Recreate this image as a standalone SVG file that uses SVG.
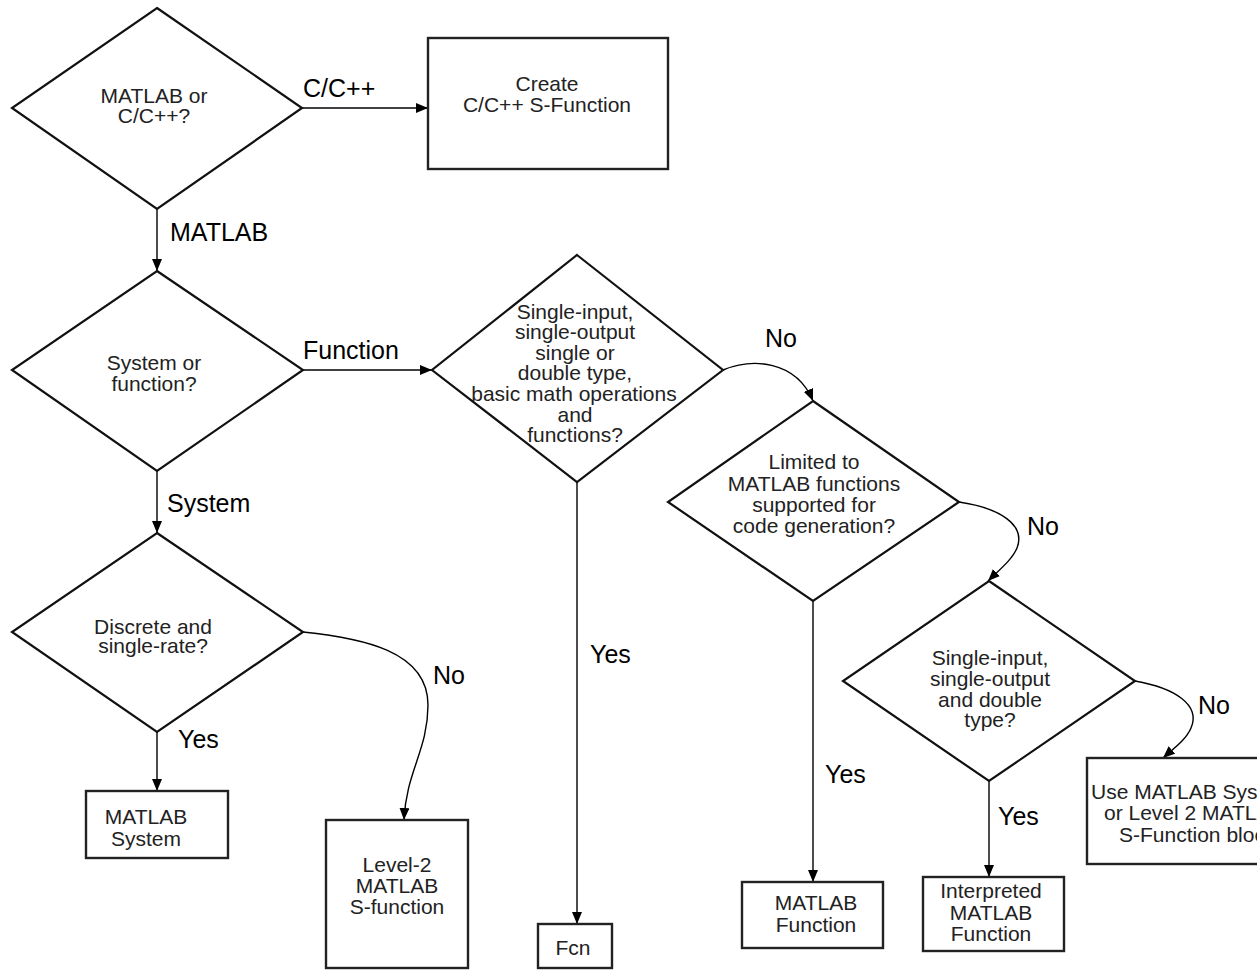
<svg xmlns="http://www.w3.org/2000/svg" width="1257" height="971" viewBox="0 0 1257 971">
<style>
.dia{fill:#fff;stroke:#111;stroke-width:2.2;stroke-linejoin:miter}
.box{fill:#fff;stroke:#222;stroke-width:2.4}
.t{font-family:"Liberation Sans",Arial,sans-serif;font-size:21px;fill:#222;text-anchor:middle}
.ts{font-family:"Liberation Sans",Arial,sans-serif;font-size:21px;fill:#222}
.lbl{font-family:"Liberation Sans",Arial,sans-serif;font-size:25px;fill:#000}
.c{fill:none;stroke:#000;stroke-width:1.4;marker-end:url(#ah)}
</style>
<defs>
<marker id="ah" markerUnits="userSpaceOnUse" markerWidth="12" markerHeight="10" refX="12" refY="5" orient="auto">
<path d="M0,0 L12,5 L0,10 z" fill="#000"/>
</marker>
</defs>
<rect width="1257" height="971" fill="#fff"/>
<g id="connectors">
<path class="c" d="M302,108 L428,108"/>
<path class="c" d="M157,209 L157,271"/>
<path class="c" d="M303,370 L432,370"/>
<path class="c" d="M157,471 L157,533"/>
<path class="c" d="M157,732 L157,791"/>
<path class="c" d="M303,632 C360,638 428,650 428,705 C428,750 406,772 404,820"/>
<path class="c" d="M577,482 L577,924"/>
<path class="c" d="M723,370 C752,358 796,360 813,401"/>
<path class="c" d="M813,601 L813,882"/>
<path class="c" d="M959,502 C1000,508 1026,525 1017,548 C1012,560 999,570 988,581"/>
<path class="c" d="M989,781 L989,877"/>
<path class="c" d="M1135,681 C1175,688 1201,705 1191,728 C1186,740 1173,749 1163,758"/>
<text class="lbl" x="303" y="97">C/C++</text>
<text class="lbl" x="170" y="241">MATLAB</text>
<text class="lbl" x="303" y="359">Function</text>
<text class="lbl" x="167" y="512">System</text>
<text class="lbl" x="178" y="748">Yes</text>
<text class="lbl" x="433" y="684">No</text>
<text class="lbl" x="590" y="663">Yes</text>
<text class="lbl" x="765" y="347">No</text>
<text class="lbl" x="825" y="783">Yes</text>
<text class="lbl" x="1027" y="535">No</text>
<text class="lbl" x="998" y="825">Yes</text>
<text class="lbl" x="1198" y="714">No</text>
</g>
<g id="d-lang">
<polygon class="dia" points="157,8 302,108 157,209 12,108"/>
<text class="t" x="154" y="103">MATLAB or</text>
<text class="t" x="154" y="123">C/C++?</text>
</g>
<g id="b-create">
<rect class="box" x="428" y="38" width="240" height="131"/>
<text class="t" x="547" y="91">Create</text>
<text class="t" x="547" y="112">C/C++ S-Function</text>
</g>
<g id="d-sysfun">
<polygon class="dia" points="157,271 303,370 157,471 12,370"/>
<text class="t" x="154" y="370">System or</text>
<text class="t" x="154" y="391">function?</text>
</g>
<g id="d-discrete">
<polygon class="dia" points="157,533 303,632 157,732 12,632"/>
<text class="t" x="153" y="634">Discrete and</text>
<text class="t" x="153" y="653">single-rate?</text>
</g>
<g id="b-matlabsystem">
<rect class="box" x="86" y="791" width="142" height="67"/>
<text class="t" x="146" y="824">MATLAB</text>
<text class="t" x="146" y="846">System</text>
</g>
<g id="b-level2">
<rect class="box" x="326" y="820" width="142" height="148"/>
<text class="t" x="397" y="872">Level-2</text>
<text class="t" x="397" y="893">MATLAB</text>
<text class="t" x="397" y="914">S-function</text>
</g>
<g id="d-siso">
<polygon class="dia" points="577,255 723,370 577,482 432,370"/>
<text class="t" x="575" y="319">Single-input,</text>
<text class="t" x="575" y="339">single-output</text>
<text class="t" x="575" y="360">single or</text>
<text class="t" x="575" y="380">double type,</text>
<text class="t" x="574" y="401">basic math operations</text>
<text class="t" x="575" y="422">and</text>
<text class="t" x="575" y="442">functions?</text>
</g>
<g id="b-fcn">
<rect class="box" x="538" y="924" width="74" height="44"/>
<text class="t" x="573" y="955">Fcn</text>
</g>
<g id="d-codegen">
<polygon class="dia" points="813,401 959,502 813,601 668,502"/>
<text class="t" x="814" y="469">Limited to</text>
<text class="t" x="814" y="491">MATLAB functions</text>
<text class="t" x="814" y="512">supported for</text>
<text class="t" x="814" y="533">code generation?</text>
</g>
<g id="b-matlabfunction">
<rect class="box" x="742" y="882" width="141" height="66"/>
<text class="t" x="816" y="910">MATLAB</text>
<text class="t" x="816" y="932">Function</text>
</g>
<g id="d-double">
<polygon class="dia" points="989,581 1135,681 989,781 843,681"/>
<text class="t" x="990" y="665">Single-input,</text>
<text class="t" x="990" y="686">single-output</text>
<text class="t" x="990" y="707">and double</text>
<text class="t" x="990" y="727">type?</text>
</g>
<g id="b-interpreted">
<rect class="box" x="923" y="877" width="141" height="74"/>
<text class="t" x="991" y="898">Interpreted</text>
<text class="t" x="991" y="920">MATLAB</text>
<text class="t" x="991" y="941">Function</text>
</g>
<g id="b-use">
<rect class="box" x="1087" y="758" width="220" height="106"/>
<text class="ts" x="1091" y="799">Use MATLAB System</text>
<text class="ts" x="1104" y="820">or Level 2 MATLAB</text>
<text class="ts" x="1119" y="842">S-Function block</text>
</g>
</svg>
